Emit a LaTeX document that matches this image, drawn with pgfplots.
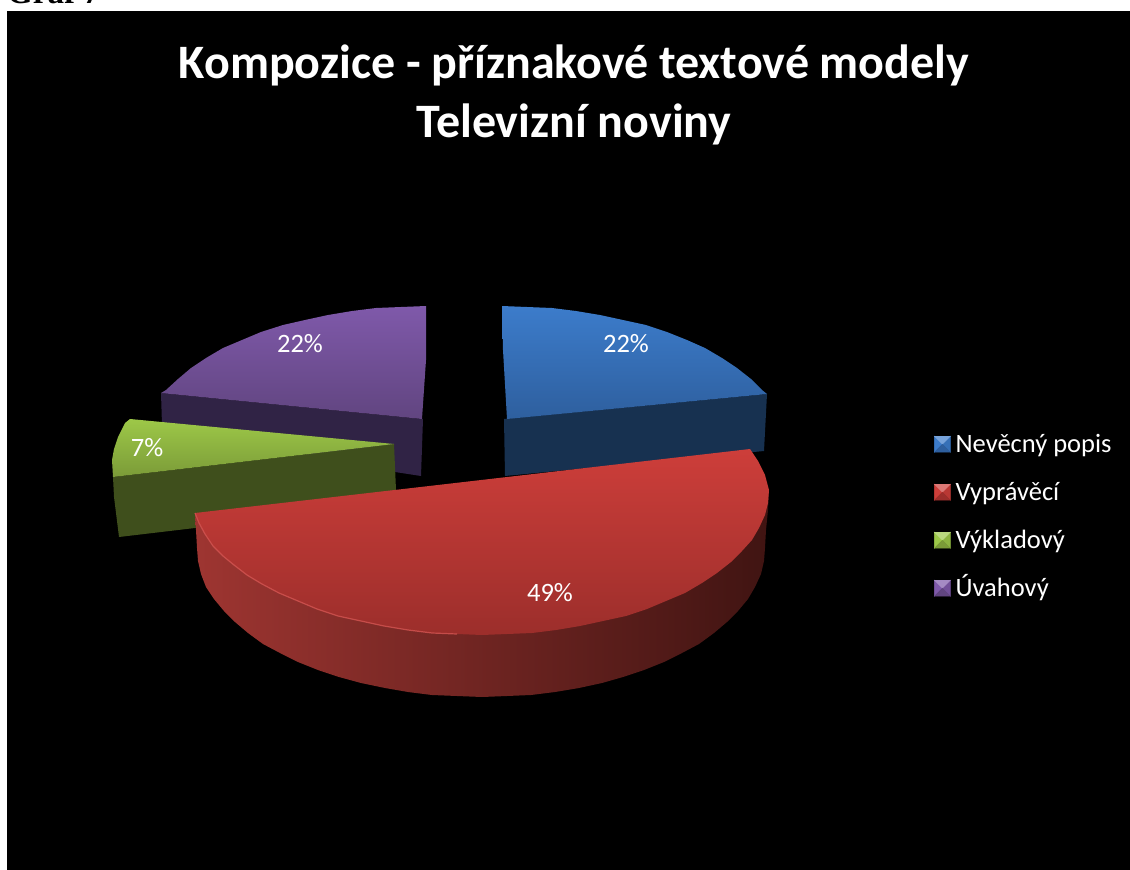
\documentclass[border=0pt]{standalone}
\usepackage{pgfplots}
\pgfplotsset{compat=1.18}
\usepackage{fontspec}
\setmainfont{Carlito}
\newfontfamily\timesf{Liberation Serif}
\definecolor{blueA}{HTML}{3C7CCB}\definecolor{blueB}{HTML}{2E5F9E}\definecolor{blueS}{HTML}{173150}
\definecolor{redA}{HTML}{CD3E3A}\definecolor{redB}{HTML}{9C2E2B}
\definecolor{redL}{HTML}{9E3531}\definecolor{redM}{HTML}{501816}\definecolor{redR}{HTML}{401412}
\definecolor{greenA}{HTML}{9DC848}\definecolor{greenB}{HTML}{7B9B38}\definecolor{greenS}{HTML}{3F4F1C}
\definecolor{purpleA}{HTML}{7F59AA}\definecolor{purpleB}{HTML}{614580}\definecolor{purpleS}{HTML}{302345}
\pgfplotsset{
  pyr/.style n args={4}{legend image code/.code={
    \fill[#2] (0pt,-8pt)--(8pt,0pt)--(0pt,8pt)--cycle;
    \fill[#3] (16pt,-8pt)--(8pt,0pt)--(16pt,8pt)--cycle;
    \fill[#1] (0pt,8pt)--(8pt,0pt)--(16pt,8pt)--cycle;
    \fill[#4] (0pt,-8pt)--(8pt,0pt)--(16pt,-8pt)--cycle;
  }}
}
\begin{document}
\begin{tikzpicture}[x=1pt,y=1pt]
\clip (0,0) rectangle (1130,870);
\begin{axis}[
  at={(0,0)},anchor=south west,
  width=1130pt,height=870pt,scale only axis,
  xmin=0,xmax=1130,ymin=0,ymax=870,y dir=reverse,
  hide axis,clip=false,
  legend style={at={(axis cs:934,432)},anchor=north west,draw=none,fill=none,
    text=white,font=\fontsize{26.5}{30}\selectfont,row sep=24pt,inner sep=0pt,
    nodes={inner sep=2pt,text height=18pt,text depth=2pt},legend cell align=left,
    /tikz/column 2/.style={column sep=0pt}},
]
\addlegendimage{pyr={blueA!70!white}{blueA}{blueA!90!black}{blueB}}
\addlegendentry{\hspace{3pt}Nevěcný popis}
\addlegendimage{pyr={redA!70!white}{redA}{redA!90!black}{redB}}
\addlegendentry{\hspace{3pt}Vyprávěcí}
\addlegendimage{pyr={greenA!70!white}{greenA}{greenA!90!black}{greenB}}
\addlegendentry{\hspace{3pt}Výkladový}
\addlegendimage{pyr={purpleA!70!white}{purpleA}{purpleA!90!black}{purpleB}}
\addlegendentry{\hspace{3pt}Úvahový}

% background
\addplot[fill=black,draw=none,forget plot] coordinates {(7,11)(1130,11)(1130,870)(7,870)} --cycle;

% blue slice
\addplot[fill=blueS,draw=none,forget plot] coordinates {(504,419)(767,394)(764,451)(505,476)} --cycle;
\addplot[draw=none,top color=blueA,bottom color=blueB,forget plot] coordinates {
(502,306)(527,307)(552,308)(576,311)(600,315)(623,320)(646,325)(667,332)(687,340)(705,348)(722,358)(737,368)(751,379)(762,390)(767,394)(507,419)(503,350)} --cycle;

% purple slice
\addplot[fill=purpleS,draw=none,forget plot] coordinates {(161,393)(422,419)(423,419)(421,476)(395,472)(162,425)} --cycle;
\addplot[draw=none,top color=purpleA,bottom color=purpleB,forget plot] coordinates {
(426,306)(401,307)(376,308)(352,311)(328,315)(305,320)(283,325)(261,332)(242,340)(223,348)(206,358)(191,368)(178,379)(166,390)(161,393)(422,419)(426,360)} --cycle;

% green slice
\addplot[fill=greenS,draw=none,forget plot] coordinates {(113,477)(394,444)(396,490)(195,528)(119,537)(114,497)} --cycle;
\addplot[draw=none,top color=greenA,bottom color=greenB,forget plot] coordinates {
(130,419)(394,444)(113,477)(112,460)(114,449)(118,437)(125,423)} --cycle;

% red slice: side wall
\addplot[draw=none,left color=redL,middle color=redM,right color=redR,forget plot] coordinates {
(195,513)(196,530)(197,548)(198,561)(201,574)(206,587)(214,599)(224,611)(235,622)(248,633)(263,644)(280,653)(298,662)(318,670)(339,677)(361,683)(385,688)(408,692)(432,695)(457,696)(482,697)(507,696)(531,695)(555,692)(579,688)(602,683)(623,677)(644,670)(664,662)(682,653)(699,644)(714,633)(727,622)(738,611)(748,599)(755,587)(761,574)(764,561)(765,548)(766,530)(768,510)(769,490)(600,600)} --cycle;
% red slice: top face
\addplot[draw=none,top color=redA,bottom color=redB,forget plot] coordinates {
(195,513)(750,449)(758,461)(765,475)(769,490)(768,503)(765,515)(759,528)(752,540)(742,551)(731,562)(717,573)(702,583)(685,593)(666,601)(647,609)(626,616)(603,621)(580,626)(556,630)(532,633)(507,634)(482,635)(457,634)(432,633)(408,630)(384,626)(361,621)(338,616)(317,609)(298,601)(279,593)(262,584)(247,575)(234,565)(223,556)(213,546)(205,534)(199,523)} --cycle;
\addplot[color=redA!88!white,line width=1.2pt,opacity=0.8,forget plot] coordinates {
(195,513)(199,523)(205,534)(213,546)(223,556)(234,565)(247,575)(262,584)(279,593)(298,601)(317,609)(338,616)(361,621)(384,626)(408,630)(432,633)(457,634)};

% labels
\node[text=white,font=\fontsize{26.5}{30}\selectfont] at (axis cs:626,344) {22\%};
\node[text=white,font=\fontsize{26.5}{30}\selectfont] at (axis cs:300,344) {22\%};
\node[text=white,font=\fontsize{26.5}{30}\selectfont] at (axis cs:147,448) {7\%};
\node[text=white,font=\fontsize{26.5}{30}\selectfont] at (axis cs:550,593) {49\%};

% title
\node[text=white,anchor=base,font=\fontsize{48}{54}\selectfont\bfseries,inner sep=0pt] at (axis cs:574,78) {Kompozice - příznakové textové modely};
\node[text=white,anchor=base,font=\fontsize{48}{54}\selectfont\bfseries,inner sep=0pt] at (axis cs:574,137) {Televizní noviny};
\node[text=black,anchor=base west,font=\fontsize{33}{36}\selectfont\timesf\bfseries,inner sep=0pt] at (axis cs:7,3) {Graf 7};
\end{axis}
\end{tikzpicture}
\end{document}
